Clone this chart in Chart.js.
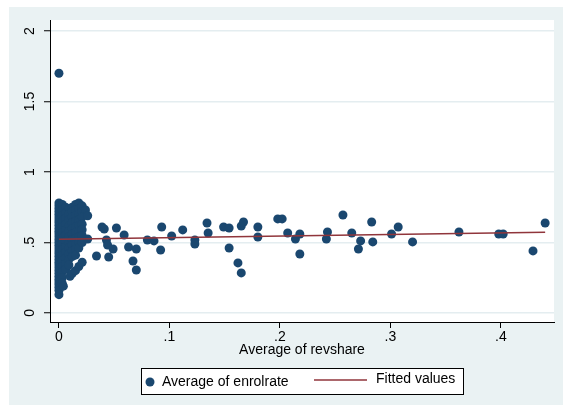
<!DOCTYPE html>
<html>
<head>
<title>Average of enrolrate vs Average of revshare</title>
<script src="https://cdn.jsdelivr.net/npm/chart.js"></script>
<style>
  body {
  margin: 0;
  padding: 0;
  background-color: #fff;
}
#wrap {
  position: absolute;
  left: 9px;
  top: 7px;
  width: 554px;
  height: 398px;
}
</style>
</head>
<body>
<div id="wrap"><canvas id="chart"></canvas></div>

<script>
// scatter values [revshare, enrolrate]
const enrolPoints = [
  // the stack at revshare = 0
  [0, 1.70], [0, 0.78], [0, 0.76], [0, 0.74], [0, 0.72], [0, 0.70], [0, 0.68], [0, 0.66],
  [0, 0.64], [0, 0.62], [0, 0.60], [0, 0.58], [0, 0.56], [0, 0.54], [0, 0.52], [0, 0.50],
  [0, 0.48], [0, 0.46], [0, 0.44], [0, 0.42], [0, 0.40], [0, 0.38], [0, 0.36], [0, 0.34],
  [0, 0.32], [0, 0.30], [0, 0.28], [0, 0.26], [0, 0.24], [0, 0.22], [0, 0.20], [0, 0.18],
  [0, 0.16], [0, 0.13],
  // dense cluster close to zero
  [0.003, 0.77], [0.003, 0.73], [0.003, 0.69], [0.003, 0.65], [0.003, 0.61], [0.003, 0.57],
  [0.003, 0.53], [0.003, 0.49], [0.003, 0.45], [0.003, 0.41], [0.003, 0.37], [0.003, 0.33],
  [0.003, 0.29], [0.003, 0.25], [0.003, 0.21], [0.004, 0.19],
  [0.006, 0.75], [0.006, 0.71], [0.006, 0.67], [0.006, 0.63], [0.006, 0.59], [0.006, 0.55],
  [0.006, 0.51], [0.006, 0.47], [0.006, 0.43], [0.006, 0.39], [0.006, 0.35], [0.006, 0.31],
  [0.009, 0.74], [0.009, 0.70], [0.009, 0.66], [0.009, 0.62], [0.009, 0.58], [0.009, 0.54],
  [0.009, 0.50], [0.009, 0.46], [0.009, 0.42], [0.009, 0.38], [0.009, 0.34], [0.010, 0.26],
  [0.012, 0.75], [0.012, 0.72], [0.012, 0.68], [0.012, 0.64], [0.012, 0.60], [0.012, 0.56],
  [0.012, 0.52], [0.012, 0.48], [0.012, 0.44], [0.012, 0.40], [0.012, 0.28],
  [0.015, 0.77], [0.015, 0.73], [0.015, 0.69], [0.015, 0.65], [0.015, 0.61], [0.015, 0.57],
  [0.015, 0.53], [0.015, 0.49], [0.015, 0.45], [0.015, 0.41], [0.015, 0.30],
  [0.018, 0.78], [0.018, 0.74], [0.018, 0.70], [0.018, 0.66], [0.018, 0.62], [0.018, 0.58],
  [0.018, 0.54], [0.018, 0.50], [0.018, 0.46], [0.018, 0.33],
  [0.021, 0.76], [0.021, 0.72], [0.021, 0.68], [0.021, 0.63], [0.021, 0.59], [0.021, 0.55],
  [0.021, 0.50], [0.021, 0.36],
  [0.024, 0.73], [0.026, 0.69], [0.026, 0.525],
  // spread out points
  [0.034, 0.404], [0.039, 0.610], [0.041, 0.596], [0.043, 0.518], [0.044, 0.482], [0.045, 0.397],
  [0.049, 0.454], [0.052, 0.603], [0.059, 0.553], [0.063, 0.468], [0.067, 0.369], [0.070, 0.454],
  [0.070, 0.305], [0.080, 0.518], [0.086, 0.511], [0.092, 0.447], [0.093, 0.610], [0.102, 0.546],
  [0.112, 0.589], [0.123, 0.518], [0.123, 0.489], [0.134, 0.638], [0.135, 0.567], [0.149, 0.610],
  [0.154, 0.603], [0.154, 0.461], [0.162, 0.355], [0.165, 0.284], [0.165, 0.617], [0.167, 0.645],
  [0.180, 0.610], [0.180, 0.539], [0.198, 0.667], [0.202, 0.667], [0.207, 0.567], [0.214, 0.525],
  [0.218, 0.560], [0.218, 0.418], [0.242, 0.525], [0.243, 0.574], [0.257, 0.695], [0.265, 0.567],
  [0.271, 0.454], [0.273, 0.511], [0.283, 0.645], [0.284, 0.504], [0.301, 0.560], [0.307, 0.610],
  [0.320, 0.504], [0.362, 0.574], [0.398, 0.560], [0.402, 0.560], [0.429, 0.440], [0.440, 0.638]
];

// fitted line end points
const fitRevshare = [0, 0.44];
const fitEnrolrate = [0.523, 0.572];

const xTickValues = [0, 0.1, 0.2, 0.3, 0.4];
const xTickLabels = ['0', '.1', '.2', '.3', '.4'];
const yTickValues = [0, 0.5, 1, 1.5, 2];
const yTickLabels = ['0', '.5', '1', '1.5', '2'];

const xTitle = 'Average of revshare';
const seriesLabels = ['Average of enrolrate', 'Fitted values'];

const navy = '#1a476f';
const maroon = '#90353b';
const font = { family: "'Liberation Sans', Arial, sans-serif", size: 14 };

function tickLabel(values, labels, v) {
  const i = values.findIndex(t => Math.abs(t - v) < 1e-9);
  return i < 0 ? '' : labels[i];
}

// light outer region, white plot area
const stataBg = {
  id: 'stataBg',
  beforeDraw(chart) {
    const { ctx, chartArea: a, width, height } = chart;
    ctx.save();
    ctx.fillStyle = '#eaf2f3';
    ctx.fillRect(0, 0, width, height);
    ctx.fillStyle = '#fff';
    ctx.fillRect(a.left, a.top, a.right - a.left, a.bottom - a.top);
    ctx.restore();
  }
};

// boxed legend under the axis title
const boxLegend = {
  id: 'boxLegend',
  afterDraw(chart) {
    const ctx = chart.ctx;
    const ds = chart.data.datasets;
    ctx.save();
    ctx.fillStyle = '#fff';
    ctx.fillRect(132, 361, 322, 26);
    ctx.strokeStyle = '#000';
    ctx.lineWidth = 1;
    ctx.strokeRect(132.5, 361.5, 322, 26);

    ctx.fillStyle = navy;
    ctx.beginPath();
    ctx.arc(141, 375, 4.5, 0, Math.PI * 2);
    ctx.fill();

    ctx.strokeStyle = maroon;
    ctx.lineWidth = 1.5;
    ctx.beginPath();
    ctx.moveTo(305, 373);
    ctx.lineTo(358, 373);
    ctx.stroke();

    ctx.fillStyle = '#000';
    ctx.font = `${font.size}px ${font.family}`;
    ctx.textBaseline = 'alphabetic';
    ctx.textAlign = 'left';
    ctx.fillText(ds[0].label, 153, 379);
    ctx.fillText(ds[1].label, 367, 376);
    ctx.restore();
  }
};

new Chart(document.getElementById('chart'), {
  type: 'scatter',
  data: {
    datasets: [{
      label: seriesLabels[0],
      data: enrolPoints.map(p => ({ x: p[0], y: p[1] })),
      pointRadius: 4.5,
      pointBackgroundColor: navy,
      pointBorderWidth: 0,
      order: 1
    }, {
      label: seriesLabels[1],
      data: fitRevshare.map((x, i) => ({ x: x, y: fitEnrolrate[i] })),
      showLine: true,
      borderColor: maroon,
      borderWidth: 1.5,
      pointRadius: 0,
      order: 0
    }]
  },
  options: {
    responsive: true,
    maintainAspectRatio: false,
    animation: false,
    layout: { padding: { left: 0, right: 9, top: 13, bottom: 0 } },
    plugins: {
      legend: { display: false },
      tooltip: { enabled: false }
    },
    scales: {
      x: {
        type: 'linear',
        min: -0.0081,
        max: 0.448,
        afterBuildTicks: s => { s.ticks = xTickValues.map(v => ({ value: v })); },
        afterFit: s => { s.height = 83; },
        ticks: {
          font: font,
          color: '#000',
          padding: 1,
          maxRotation: 0,
          autoSkip: false,
          callback: v => tickLabel(xTickValues, xTickLabels, v)
        },
        grid: { drawOnChartArea: false, tickLength: 6, tickColor: '#000', tickWidth: 1 },
        border: { color: '#000', width: 1 },
        title: { display: true, text: xTitle, font: font, color: '#000', padding: { top: 0, bottom: 46 } }
      },
      y: {
        type: 'linear',
        min: -0.064,
        max: 2.078,
        afterBuildTicks: s => { s.ticks = yTickValues.map(v => ({ value: v })); },
        afterFit: s => { s.width = 41; },
        ticks: {
          font: font,
          color: '#000',
          padding: 4,
          minRotation: 90,
          maxRotation: 90,
          crossAlign: 'center',
          callback: v => tickLabel(yTickValues, yTickLabels, v)
        },
        grid: { color: '#e4edf0', lineWidth: 1.5, tickLength: 6, tickColor: '#000', tickWidth: 1 },
        border: { color: '#000', width: 1 }
      }
    }
  },
  plugins: [stataBg, boxLegend]
});
</script>
</body>
</html>
